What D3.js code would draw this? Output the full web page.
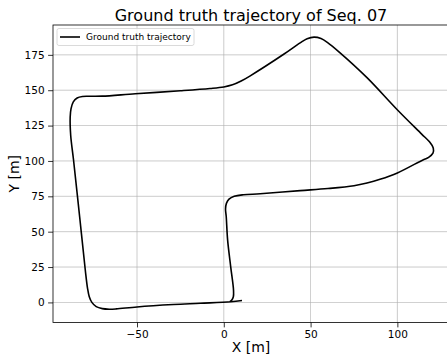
<!DOCTYPE html>
<html>
<head>
<meta charset="utf-8">
<script src="https://cdn.jsdelivr.net/npm/d3@7"></script>
<style>
  body { margin: 0; background: #fff; }
  svg { display: block; font-family: "DejaVu Sans", sans-serif; }
</style>
</head>
<body>
<svg id="chart" width="447" height="360"></svg>
<script>
// trajectory, x and y in metres
var trajX = [10.5, 4, -13.5, -29, -50, -62, -66, -70, -73.5, -76, -77.5, -78.5, -79.8, -83, -86.6, -88.2, -88.5, -88, -86.7, -84.5, -81.5, -76, -70, -51, -25, -8, 0, 5, 10, 15, 34.5, 44, 48, 52, 56, 60, 66, 82.5, 99.8, 114, 118.5, 120.7, 120.5, 118, 115, 100, 90, 82.5, 75, 60, 44, 21, 11.4, 6, 3, 1.5, 1, 1.4, 2.2, 4, 5.6, 5.5, 4.5, 3.5];
var trajY = [1.4, 0.5, -0.6, -1.5, -3.2, -4.6, -4.8, -4.4, -3, 0, 4, 10, 22.9, 60, 101, 118, 131, 137, 141.8, 144.5, 145.6, 145.7, 145.8, 147.5, 149.6, 151.2, 152.3, 153.8, 156.5, 160, 175.4, 183.5, 186.4, 187.5, 186.5, 183.5, 177.5, 158.9, 136.4, 119, 113.5, 109, 105.5, 102.5, 100.9, 91.5, 87, 84.4, 82.5, 80.5, 79, 76.8, 76.1, 75, 73, 70, 66, 60.7, 44.2, 25, 8.7, 4, 1.5, 0.5];
var xTicks = [-50, 0, 50, 100];
var yTicks = [0, 25, 50, 75, 100, 125, 150, 175];

var svg = d3.select("#chart");
var pl = 53, pr = 451, pt = 25, pb = 322.5;

var x = d3.scaleLinear().domain([-98.4, 130.9]).range([pl, pr]);
var y = d3.scaleLinear().domain([-14.2, 196.1]).range([pb, pt]);

// grid
svg.append("g").selectAll("line").data(xTicks).enter().append("line")
    .attr("x1", d => x(d)).attr("x2", d => x(d))
    .attr("y1", pt).attr("y2", pb)
    .attr("stroke", "#b0b0b0").attr("stroke-width", 0.8).attr("opacity", 0.8);
svg.append("g").selectAll("line").data(yTicks).enter().append("line")
    .attr("x1", pl).attr("x2", pr)
    .attr("y1", d => y(d)).attr("y2", d => y(d))
    .attr("stroke", "#b0b0b0").attr("stroke-width", 0.8).attr("opacity", 0.8);

// axes
var xAxis = svg.append("g").attr("transform", "translate(0," + pb + ")")
    .call(d3.axisBottom(x).tickValues(xTicks).tickSize(4.9).tickPadding(3.5).tickFormat(d => d < 0 ? "\u2212" + Math.abs(d) : d));
var yAxis = svg.append("g").attr("transform", "translate(" + pl + ",0)")
    .call(d3.axisLeft(y).tickValues(yTicks).tickSize(4.9).tickPadding(3.5));
[xAxis, yAxis].forEach(function(a) {
    a.select(".domain").remove();
    a.selectAll("text").attr("font-size", 10.5).attr("fill", "#000").attr("font-family", "DejaVu Sans");
    a.selectAll("line").attr("stroke", "#000").attr("stroke-width", 0.8);
});

// frame
svg.append("rect")
    .attr("x", pl).attr("y", pt)
    .attr("width", pr - pl).attr("height", pb - pt)
    .attr("fill", "none").attr("stroke", "#000").attr("stroke-width", 0.8);

// trajectory
var pts = trajX.map((v, i) => [v, trajY[i]]);
var line = d3.line().x(d => x(d[0])).y(d => y(d[1])).curve(d3.curveCatmullRom.alpha(0.5));
svg.append("path").datum(pts)
    .attr("d", line)
    .attr("fill", "none").attr("stroke", "#000").attr("stroke-width", 1.6)
    .attr("stroke-linejoin", "round");

// legend
var lg = svg.append("g");
lg.append("rect").attr("x", 57).attr("y", 28.5).attr("width", 137).attr("height", 17)
    .attr("rx", 2).attr("fill", "#fff").attr("fill-opacity", 0.8)
    .attr("stroke", "#d0d0d0").attr("stroke-width", 0.8);
lg.append("line").attr("x1", 60).attr("x2", 80).attr("y1", 37).attr("y2", 37)
    .attr("stroke", "#000").attr("stroke-width", 1.6);
lg.append("text").attr("x", 86).attr("y", 40.3).attr("font-size", 9).text("Ground truth trajectory");

// titles
svg.append("text").attr("x", 251).attr("y", 20.5).attr("text-anchor", "middle")
    .attr("font-size", 16).text("Ground truth trajectory of Seq. 07");
svg.append("text").attr("x", 251).attr("y", 352).attr("text-anchor", "middle")
    .attr("font-size", 14).text("X [m]");
svg.append("text").attr("transform", "translate(19," + ((pt + pb) / 2) + ") rotate(-90)")
    .attr("text-anchor", "middle").attr("font-size", 14).text("Y [m]");
</script>
</body>
</html>
